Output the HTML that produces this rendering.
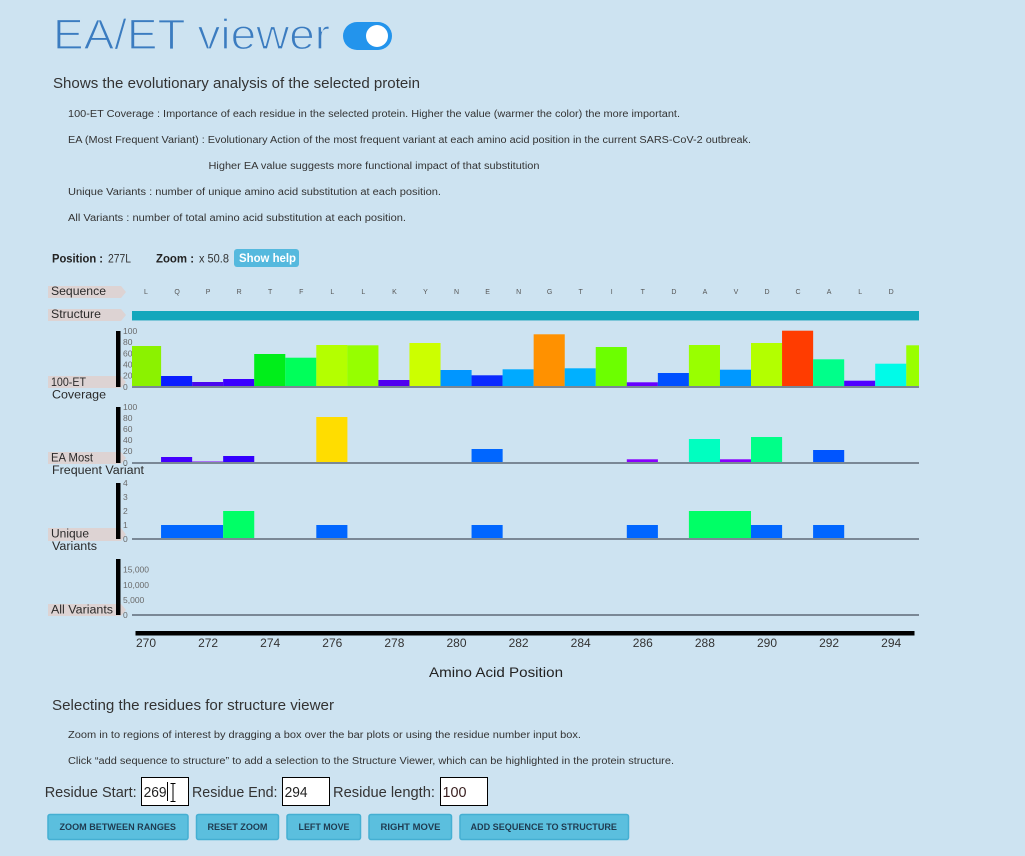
<!DOCTYPE html>
<html><head><meta charset="utf-8"><style>
html,body{margin:0;padding:0;background:#cde3f1;}
svg{display:block;}
text{font-family:"Liberation Sans",sans-serif;}
</style></head><body>
<svg width="1025" height="856" viewBox="0 0 1025 856" xmlns="http://www.w3.org/2000/svg">
<rect width="1025" height="856" fill="#cde3f1"/>
<!-- Title -->
<text x="53" y="49" font-size="43" fill="#3b7cc0" stroke="#cde3f1" stroke-width="1.3" textLength="277" lengthAdjust="spacingAndGlyphs">EA/ET viewer</text>
<rect x="343" y="22" width="49" height="28" rx="14" fill="#2394ec"/>
<circle cx="377" cy="36" r="11" fill="#fff"/>
<text x="53" y="88" font-size="15" fill="#333" textLength="367" lengthAdjust="spacingAndGlyphs">Shows the evolutionary analysis of the selected protein</text>
<g font-size="10" fill="#333">
<text x="68" y="117" textLength="612" lengthAdjust="spacingAndGlyphs">100-ET Coverage : Importance of each residue in the selected protein. Higher the value (warmer the color) the more important.</text>
<text x="68" y="143" textLength="683" lengthAdjust="spacingAndGlyphs">EA (Most Frequent Variant) : Evolutionary Action of the most frequent variant at each amino acid position in the current SARS-CoV-2 outbreak.</text>
<text x="208.5" y="169" textLength="331" lengthAdjust="spacingAndGlyphs">Higher EA value suggests more functional impact of that substitution</text>
<text x="68" y="195" textLength="373" lengthAdjust="spacingAndGlyphs">Unique Variants : number of unique amino acid substitution at each position.</text>
<text x="68" y="221" textLength="338" lengthAdjust="spacingAndGlyphs">All Variants : number of total amino acid substitution at each position.</text>
</g>
<!-- Position row -->
<text x="52" y="262.5" font-size="12" font-weight="bold" fill="#222" textLength="51" lengthAdjust="spacingAndGlyphs">Position :</text>
<text x="108" y="262.5" font-size="12" fill="#333" textLength="23" lengthAdjust="spacingAndGlyphs">277L</text>
<text x="156" y="262.5" font-size="12" font-weight="bold" fill="#222" textLength="38" lengthAdjust="spacingAndGlyphs">Zoom :</text>
<text x="199" y="262.5" font-size="12" fill="#333" textLength="30" lengthAdjust="spacingAndGlyphs">x 50.8</text>
<rect x="234" y="249" width="65" height="18" rx="3" fill="#55b9de"/>
<text x="239" y="262" font-size="12" font-weight="bold" fill="#fff" textLength="57" lengthAdjust="spacingAndGlyphs">Show help</text>
<!-- Tags -->
<g fill="#ddd3d3">
<polygon points="48,286 121,286 126,292 121,298 48,298"/>
<polygon points="48,309 121,309 126,315 121,321 48,321"/>
<polygon points="48,376 121,376 126,382 121,388 48,388"/>
<polygon points="48,452 121,452 126,458 121,464 48,464"/>
<polygon points="48,528 121,528 126,534.5 121,541 48,541"/>
<polygon points="48,604 121,604 126,610 121,616 48,616"/>
</g>
<g font-size="11.5" fill="#2a2a2a">
<text x="51" y="295" textLength="55" lengthAdjust="spacingAndGlyphs">Sequence</text>
<text x="51" y="318" textLength="50" lengthAdjust="spacingAndGlyphs">Structure</text>
<text x="51" y="386" textLength="35" lengthAdjust="spacingAndGlyphs">100-ET</text>
<text x="52" y="398.5" textLength="54" lengthAdjust="spacingAndGlyphs">Coverage</text>
<text x="51" y="461.5" textLength="42" lengthAdjust="spacingAndGlyphs">EA Most</text>
<text x="52" y="474" textLength="92" lengthAdjust="spacingAndGlyphs">Frequent Variant</text>
<text x="51" y="537.5" textLength="38" lengthAdjust="spacingAndGlyphs">Unique</text>
<text x="52" y="550" textLength="45" lengthAdjust="spacingAndGlyphs">Variants</text>
<text x="51" y="613.5" textLength="62" lengthAdjust="spacingAndGlyphs">All Variants</text>
</g>
<!-- Sequence letters -->
<g font-size="7" fill="#555" text-anchor="middle">
<text x="146" y="294">L</text><text x="177.05" y="294">Q</text><text x="208.1" y="294">P</text><text x="239.15" y="294">R</text><text x="270.2" y="294">T</text><text x="301.25" y="294">F</text><text x="332.3" y="294">L</text><text x="363.35" y="294">L</text><text x="394.4" y="294">K</text><text x="425.45" y="294">Y</text><text x="456.5" y="294">N</text><text x="487.55" y="294">E</text><text x="518.6" y="294">N</text><text x="549.65" y="294">G</text><text x="580.7" y="294">T</text><text x="611.75" y="294">I</text><text x="642.8" y="294">T</text><text x="673.85" y="294">D</text><text x="704.9" y="294">A</text><text x="735.95" y="294">V</text><text x="767" y="294">D</text><text x="798.05" y="294">C</text><text x="829.1" y="294">A</text><text x="860.15" y="294">L</text><text x="891.2" y="294">D</text>
</g>
<!-- Structure bar -->
<rect x="132" y="311" width="787" height="9" fill="#13a7bc"/>
<rect x="132" y="320" width="787" height="1" fill="#7cc6d8"/>
<!-- Y axes -->
<g fill="#000">
<rect x="116" y="331" width="4.5" height="56"/>
<rect x="116" y="407" width="4.5" height="56"/>
<rect x="116" y="483" width="4.5" height="56"/>
<rect x="116" y="559" width="4.5" height="56"/>
</g>
<g font-size="8.5" fill="#6a6a6a">
<text x="123" y="334">100</text><text x="123" y="345">80</text><text x="123" y="356.5">60</text><text x="123" y="367.5">40</text><text x="123" y="378.5">20</text><text x="123" y="390">0</text>
<text x="123" y="410">100</text><text x="123" y="421">80</text><text x="123" y="432">60</text><text x="123" y="443">40</text><text x="123" y="454">20</text><text x="123" y="466">0</text>
<text x="123" y="486">4</text><text x="123" y="500">3</text><text x="123" y="514">2</text><text x="123" y="528">1</text><text x="123" y="542">0</text>
<text x="123" y="572.5">15,000</text><text x="123" y="588">10,000</text><text x="123" y="603">5,000</text><text x="123" y="618">0</text>
</g>
<!-- 100-ET bars -->
<g>
<rect x="132" y="346" width="29.1" height="41" fill="#8bf200"/>
<rect x="161.05" y="376" width="31.1" height="11" fill="#0a1eff"/>
<rect x="192.1" y="382" width="31.1" height="5" fill="#4a08ee"/>
<rect x="223.15" y="379" width="31.1" height="8" fill="#3a00ff"/>
<rect x="254.2" y="354" width="31.1" height="33" fill="#00ee1a"/>
<rect x="285.25" y="357.7" width="31.1" height="29.3" fill="#00ff5a"/>
<rect x="316.3" y="345" width="31.1" height="42" fill="#b4ff00"/>
<rect x="347.35" y="345.3" width="31.1" height="41.7" fill="#96ff00"/>
<rect x="378.4" y="380" width="31.1" height="7" fill="#5000f0"/>
<rect x="409.45" y="343" width="31.1" height="44" fill="#ccff00"/>
<rect x="440.5" y="370" width="31.1" height="17" fill="#0096ff"/>
<rect x="471.55" y="375.3" width="31.1" height="11.7" fill="#0a2aff"/>
<rect x="502.6" y="369.3" width="31.1" height="17.7" fill="#00aaff"/>
<rect x="533.65" y="334.3" width="31.1" height="52.7" fill="#ff9100"/>
<rect x="564.7" y="368.3" width="31.1" height="18.7" fill="#00b0ff"/>
<rect x="595.75" y="347" width="31.1" height="40" fill="#6cff00"/>
<rect x="626.8" y="382.3" width="31.1" height="4.7" fill="#6600ff"/>
<rect x="657.85" y="373" width="31.1" height="14" fill="#0050ff"/>
<rect x="688.9" y="345" width="31.1" height="42" fill="#99ff00"/>
<rect x="719.95" y="369.7" width="31.1" height="17.3" fill="#0098ff"/>
<rect x="751" y="343" width="31.1" height="44" fill="#b3ff00"/>
<rect x="782.05" y="330.7" width="31.1" height="56.3" fill="#ff3c00"/>
<rect x="813.1" y="359.3" width="31.1" height="27.7" fill="#00ff8a"/>
<rect x="844.15" y="380.7" width="31.1" height="6.3" fill="#5000ff"/>
<rect x="875.2" y="363.7" width="31.1" height="23.3" fill="#00fbe8"/>
<rect x="906.25" y="345.3" width="12.75" height="41.7" fill="#99ff00"/>
</g>
<!-- EA bars -->
<g>
<rect x="161.05" y="457" width="31.1" height="6" fill="#4400ff"/>
<rect x="192.1" y="461.5" width="31.1" height="1.5" fill="#8800ff"/>
<rect x="223.15" y="456" width="31.1" height="7" fill="#3300ff"/>
<rect x="316.3" y="417" width="31.1" height="46" fill="#ffdd00"/>
<rect x="471.55" y="449" width="31.1" height="14" fill="#0066ff"/>
<rect x="626.8" y="459.3" width="31.1" height="3.7" fill="#8800ff"/>
<rect x="688.9" y="439" width="31.1" height="24" fill="#00ffc0"/>
<rect x="719.95" y="459.3" width="31.1" height="3.7" fill="#8800ff"/>
<rect x="751" y="437" width="31.1" height="26" fill="#00ff88"/>
<rect x="813.1" y="450" width="31.1" height="13" fill="#0055ff"/>
</g>
<!-- Unique bars -->
<g>
<rect x="161.05" y="525" width="62.1" height="14" fill="#0066ff"/>
<rect x="223.15" y="511" width="31.1" height="28" fill="#00ff66"/>
<rect x="316.3" y="525" width="31.1" height="14" fill="#0066ff"/>
<rect x="471.55" y="525" width="31.1" height="14" fill="#0066ff"/>
<rect x="626.8" y="525" width="31.1" height="14" fill="#0066ff"/>
<rect x="688.9" y="511" width="62.1" height="28" fill="#00ff66"/>
<rect x="751" y="525" width="31.1" height="14" fill="#0066ff"/>
<rect x="813.1" y="525" width="31.1" height="14" fill="#0066ff"/>
</g>
<!-- Baselines -->
<g fill="#7a8896">
<rect x="132" y="386" width="787" height="2"/>
<rect x="132" y="462" width="787" height="2"/>
<rect x="132" y="538" width="787" height="2"/>
<rect x="132" y="614" width="787" height="2"/>
</g>
<!-- X axis -->
<rect x="135.5" y="631" width="779" height="4.5" fill="#000"/>
<g font-size="12" fill="#333" text-anchor="middle">
<text x="146" y="647">270</text><text x="208.1" y="647">272</text><text x="270.2" y="647">274</text><text x="332.3" y="647">276</text><text x="394.4" y="647">278</text><text x="456.5" y="647">280</text><text x="518.6" y="647">282</text><text x="580.7" y="647">284</text><text x="642.8" y="647">286</text><text x="704.9" y="647">288</text><text x="767" y="647">290</text><text x="829.1" y="647">292</text><text x="891.2" y="647">294</text>
</g>
<text x="429" y="677" font-size="14" fill="#222" textLength="134" lengthAdjust="spacingAndGlyphs">Amino Acid Position</text>
<!-- Bottom section -->
<text x="52" y="710" font-size="15" fill="#333" textLength="282" lengthAdjust="spacingAndGlyphs">Selecting the residues for structure viewer</text>
<text x="68" y="738" font-size="10" fill="#333" textLength="513" lengthAdjust="spacingAndGlyphs">Zoom in to regions of interest by dragging a box over the bar plots or using the residue number input box.</text>
<text x="68" y="764" font-size="10" fill="#333" textLength="606" lengthAdjust="spacingAndGlyphs">Click “add sequence to structure” to add a selection to the Structure Viewer, which can be highlighted in the protein structure.</text>
<g font-size="15" fill="#333">
<text x="44.7" y="797" textLength="92" lengthAdjust="spacingAndGlyphs">Residue Start:</text>
<text x="192" y="797" textLength="85.5" lengthAdjust="spacingAndGlyphs">Residue End:</text>
<text x="333" y="797" textLength="102" lengthAdjust="spacingAndGlyphs">Residue length:</text>
</g>
<g fill="#fff" stroke="#000" stroke-width="1">
<rect x="141.5" y="777.5" width="47" height="28"/>
<rect x="282.5" y="777.5" width="47" height="28"/>
<rect x="440.5" y="777.5" width="47" height="28"/>
</g>
<g font-size="14.5" fill="#222">
<text x="143.6" y="797" textLength="23" lengthAdjust="spacingAndGlyphs">269</text>
<text x="284.6" y="797" textLength="23" lengthAdjust="spacingAndGlyphs">294</text>
<text x="442.5" y="797" fill="#3a2020" textLength="24" lengthAdjust="spacingAndGlyphs">100</text>
</g>
<!-- cursors -->
<rect x="167" y="782" width="1" height="19" fill="#000"/>
<g stroke="#000" stroke-width="1" fill="none">
<line x1="173" y1="784" x2="173" y2="801"/>
<line x1="170.5" y1="783.5" x2="175.5" y2="783.5"/>
<line x1="170.5" y1="801.5" x2="175.5" y2="801.5"/>
</g>
<!-- Buttons -->
<g fill="#5bbfde" stroke="#45afd2" stroke-width="1.5">
<rect x="48" y="814.5" width="140" height="25" rx="2"/>
<rect x="196.5" y="814.5" width="82" height="25" rx="2"/>
<rect x="287" y="814.5" width="73.5" height="25" rx="2"/>
<rect x="369" y="814.5" width="82.5" height="25" rx="2"/>
<rect x="460" y="814.5" width="168.5" height="25" rx="2"/>
</g>
<g font-size="9" font-weight="bold" fill="#1f3b50">
<text x="59.5" y="830" textLength="116.5" lengthAdjust="spacingAndGlyphs">ZOOM BETWEEN RANGES</text>
<text x="207.5" y="830" textLength="60" lengthAdjust="spacingAndGlyphs">RESET ZOOM</text>
<text x="298.5" y="830" textLength="51" lengthAdjust="spacingAndGlyphs">LEFT MOVE</text>
<text x="380.5" y="830" textLength="60" lengthAdjust="spacingAndGlyphs">RIGHT MOVE</text>
<text x="470.5" y="830" textLength="146.5" lengthAdjust="spacingAndGlyphs">ADD SEQUENCE TO STRUCTURE</text>
</g>
</svg>
</body></html>
